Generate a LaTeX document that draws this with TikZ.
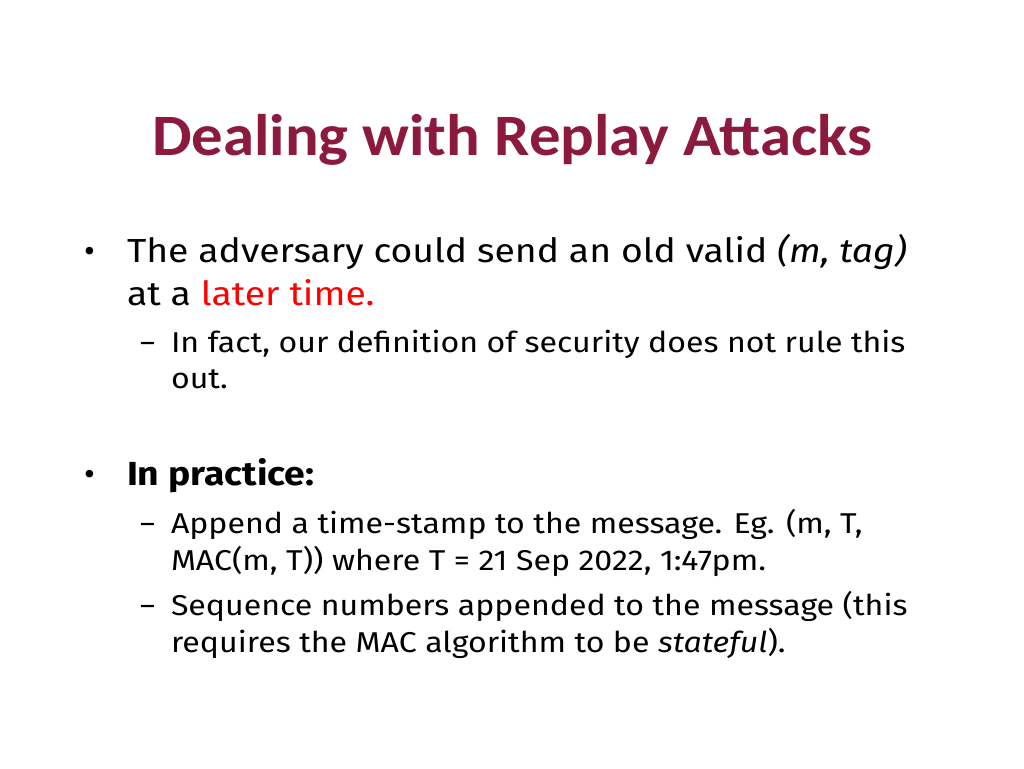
\documentclass[tikz,border=0pt]{standalone}
\usepackage{fontspec}
\setmainfont{Fira Sans}
\newfontfamily\titlefont{Carlito}
\definecolor{ttl}{HTML}{8B1A3C}
\definecolor{hl}{HTML}{FF0000}
\newcommand{\widetxt}[1]{\scalebox{1.12}[1]{#1}}
\begin{document}
\begin{tikzpicture}[x=0.75pt,y=-0.75pt,
  every node/.style={inner sep=0pt,outer sep=0pt,anchor=base west},
  big/.style={font=\fontsize{25}{30}\selectfont},
  small/.style={font=\fontsize{21.5}{26}\selectfont}]
\useasboundingbox (0,0) rectangle (1024,768);
\node[anchor=base,text=ttl,font=\titlefont\bfseries\fontsize{44}{50}\selectfont] (title) at (512,155) {\scalebox{1.07}[1]{Dealing with Replay Attacks}};
\node[big] (b1) at (84,262) {•};
\node[big] (l1) at (127,262) {\widetxt{The adversary could send an old valid \textit{(m, tag)}}};
\node[big] (l2) at (127,305) {\widetxt{at a \textcolor{hl}{later time.}}};
\node[small] (d1) at (140,352) {–};
\node[small] (l3) at (171,352) {\widetxt{In fact, our definition of security does not rule this}};
\node[small] (l4) at (171,388) {\widetxt{out.}};
\node[big] (b2) at (84,485) {•};
\node[big] (l5) at (127,485) {\widetxt{\bfseries In practice:}};
\node[small] (d2) at (140,533) {–};
\node[small] (l6) at (171,533) {\widetxt{Append a time-stamp to the message. Eg. (m, T,}};
\node[small] (l7) at (171,570) {\widetxt{MAC(m, T)) where T = 21 Sep 2022, 1:47pm.}};
\node[small] (d3) at (140,615) {–};
\node[small] (l8) at (171,615) {\widetxt{Sequence numbers appended to the message (this}};
\node[small] (l9) at (171,652) {\widetxt{requires the MAC algorithm to be \textit{stateful}).}};
\end{tikzpicture}
\end{document}
